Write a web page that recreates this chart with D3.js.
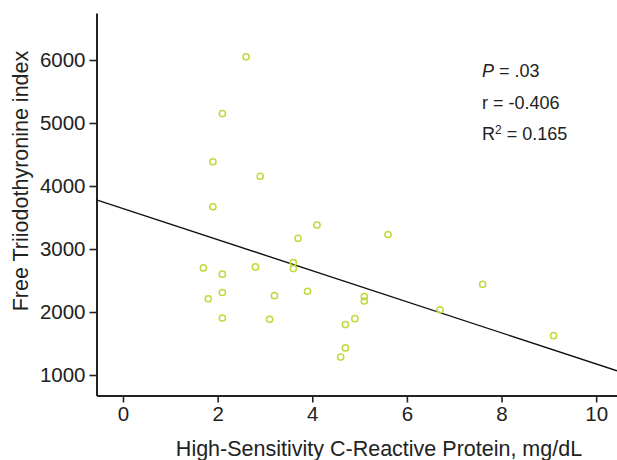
<!DOCTYPE html>
<html>
<head>
<meta charset="utf-8">
<script src="https://cdn.jsdelivr.net/npm/d3@7"></script>
<style>
  body { margin: 0; background: #fff; }
  svg { display: block; font-family: "Liberation Sans", Arial, sans-serif; }
  .axis path, .axis line { stroke: #222; }
  .axis text { fill: #222; font-size: 20.5px; }
  .label { fill: #222; font-size: 21.5px; }
  .stat { fill: #222; font-size: 18px; }
</style>
</head>
<body>
<svg id="chart" width="617" height="460"></svg>
<script>
// ======================
// DATA
// ======================

const crp = [
    2.6, 2.1, 1.9, 2.9, 1.9, 4.1, 1.7, 1.8, 2.1, 2.1,
    2.1, 2.8, 3.2, 3.1, 3.7, 3.6, 3.6, 3.9, 5.6, 5.1,
    5.1, 4.9, 4.7, 4.7, 4.6, 6.7, 7.6, 9.1
];
const ft3Index = [
    6050, 5150, 4385, 4155, 3670, 3380, 2700, 2210, 2600, 2310,
    1905, 2715, 2260, 1885, 3170, 2785, 2690, 2330, 3230, 2245,
    2175, 1895, 1800, 1430, 1285, 2035, 2440, 1625
];

// fitted line y = a + b*x
const fitIntercept = 3642;
const fitSlope = -246.6;

const xTicks = [0, 2, 4, 6, 8, 10];
const yTicks = [1000, 2000, 3000, 4000, 5000, 6000];

const statLines = [
    { italic: "P", rest: " = .03" },
    { plain: "r = -0.406" },
    { plain: "R", sup: "2", after: " = 0.165" }
];

// ======================
// SETUP
// ======================

const width = 617;
const height = 460;
const margin = { top: 13, right: 0, bottom: 64.5, left: 96.5 };
const innerW = width - margin.left - margin.right;
const innerH = height - margin.top - margin.bottom;

const svg = d3.select("#chart");
const g = svg.append("g")
    .attr("transform", `translate(${margin.left},${margin.top})`);

const xDomain = [-0.56, 10.44];
const yDomain = [675, 6746];

const x = d3.scaleLinear().domain(xDomain).range([0, innerW]);
const y = d3.scaleLinear().domain(yDomain).range([innerH, 0]);

// axes
const xAxisG = g.append("g")
    .attr("class", "axis")
    .attr("transform", `translate(0,${innerH})`)
    .call(d3.axisBottom(x).tickValues(xTicks).tickFormat(d3.format("d"))
        .tickSize(7).tickSizeOuter(0).tickPadding(4));

const yAxisG = g.append("g")
    .attr("class", "axis")
    .call(d3.axisLeft(y).tickValues(yTicks).tickFormat(d3.format("d"))
        .tickSize(7).tickSizeOuter(0).tickPadding(4));

g.selectAll(".axis path").attr("stroke-width", 2);
g.selectAll(".axis line").attr("stroke-width", 1.6);
g.selectAll(".axis").attr("font-family", null).attr("font-size", null);

// axis titles
svg.append("text")
    .attr("class", "label")
    .attr("x", 379)
    .attr("y", 456)
    .attr("text-anchor", "middle")
    .text("High-Sensitivity C-Reactive Protein, mg/dL");

svg.append("text")
    .attr("class", "label")
    .attr("transform", "translate(28,181) rotate(-90)")
    .attr("text-anchor", "middle")
    .text("Free Triiodothyronine index");

// ======================
// REGRESSION LINE
// ======================

g.append("line")
    .attr("x1", x(xDomain[0]))
    .attr("y1", y(fitIntercept + fitSlope * xDomain[0]))
    .attr("x2", x(xDomain[1]))
    .attr("y2", y(fitIntercept + fitSlope * xDomain[1]))
    .attr("stroke", "#111")
    .attr("stroke-width", 1.4);

// ======================
// POINTS
// ======================

const points = crp.map((v, i) => ({ x: v, y: ft3Index[i] }));

g.selectAll(".dot")
    .data(points)
    .enter()
    .append("circle")
    .attr("class", "dot")
    .attr("cx", d => x(d.x))
    .attr("cy", d => y(d.y))
    .attr("r", 3.1)
    .attr("fill", "none")
    .attr("stroke", "#c2d83c")
    .attr("stroke-width", 1.5);

// ======================
// STATS TEXT
// ======================

const statG = svg.append("g").attr("class", "stat");

statLines.forEach((s, i) => {
    const t = statG.append("text")
        .attr("x", 482)
        .attr("y", 77 + i * 31.5);
    if (s.italic) {
        t.append("tspan").attr("font-style", "italic").text(s.italic);
        t.append("tspan").text(s.rest);
    } else if (s.sup) {
        t.append("tspan").text(s.plain);
        t.append("tspan").attr("font-size", "12px").attr("dy", -6).text(s.sup);
        t.append("tspan").attr("dy", 6).text(s.after);
    } else {
        t.text(s.plain);
    }
});
</script>
</body>
</html>
